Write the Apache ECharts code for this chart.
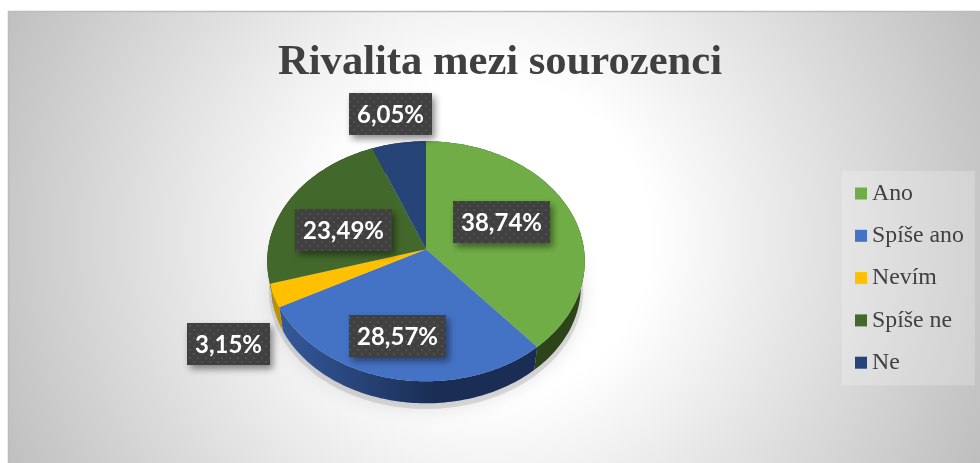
<!DOCTYPE html>
<html>
<head>
<meta charset="utf-8">
<title>Rivalita mezi sourozenci</title>
<style>
  html, body { margin: 0; padding: 0; background: #fff; }
  #chart { width: 980px; height: 463px; }
</style>
</head>
<body>
<div id="chart"></div>
<script src="https://cdn.jsdelivr.net/npm/echarts@6/dist/echarts.min.js"></script>
<script>
const titleText = 'Rivalita mezi sourozenci'
const categories = ['Ano', 'Spíše ano', 'Nevím', 'Spíše ne', 'Ne']
const shares = [38.74, 28.57, 3.15, 23.49, 6.05]

const colors = ['#70ad47', '#4472c4', '#ffc000', '#43682b', '#264478']
const wallColors = ['#2c4419', null, '#bf9000', '#2c4419', '#1a2e55']
// centres of the label boxes, placed by hand like in the original
const labelCenters = [[501.5, 222], [397.5, 336], [228.5, 344], [343.5, 230], [390.5, 114]]
const labelSizes = [[97, 42], [97, 42], [83, 42], [97, 42], [83, 42]]

// the pie lies tilted, so the circle goes through a small perspective mapping
const apex = [426, 249.3]
const radiusX = 158
const radiusY = 118.8
const tilt = 0.1
const rimScale = 0.975
const rimDrop = 25.3

function rimPoint(angle, scale, drop) {
  const u = Math.sin(angle)
  const v = -Math.cos(angle)
  const w = 1 - tilt * v
  return [apex[0] + radiusX * u / w * scale, apex[1] + radiusY * v / w * scale + drop]
}

function arcPoints(from, to, scale, drop) {
  const steps = Math.max(2, Math.ceil((to - from) / 0.02))
  const pts = []
  for (let i = 0; i <= steps; i++) {
    pts.push(rimPoint(from + (to - from) * i / steps, scale, drop))
  }
  return pts
}

function dotTile() {
  const tile = document.createElement('canvas')
  tile.width = 8
  tile.height = 8
  const ctx = tile.getContext('2d')
  ctx.fillStyle = '#404040'
  ctx.fillRect(0, 0, 8, 8)
  ctx.fillStyle = '#505050'
  ctx.fillRect(1, 1, 2, 2)
  ctx.fillRect(5, 5, 2, 2)
  return tile
}
const dots = dotTile()

function formatShare(v) {
  return v.toFixed(2).replace('.', ',') + '%'
}

function renderSlice(params, api) {
  const idx = params.seriesIndex
  const total = shares.reduce((a, b) => a + b, 0)
  const before = shares.slice(0, idx).reduce((a, b) => a + b, 0)
  const from = before / total * Math.PI * 2
  const to = (before + api.value(0)) / total * Math.PI * 2

  const topRim = arcPoints(from, to, 1, 0)
  const lowRim = arcPoints(from, to, rimScale, rimDrop)

  // blue wall fades from left to right
  const wallFill = wallColors[idx] || {
    type: 'linear', x: 1, y: 0, x2: 0, y2: 0,
    colorStops: [
      { offset: 0, color: '#1a2e55' },
      { offset: 0.4, color: '#1a2e55' },
      { offset: 1, color: '#35599c' }
    ]
  }
  const c = labelCenters[idx]
  const s = labelSizes[idx]

  return {
    type: 'group',
    children: [
      {
        type: 'polygon',
        z2: 1,
        shape: { points: topRim.concat(lowRim.reverse()) },
        style: { fill: wallFill }
      },
      {
        type: 'polygon',
        z2: 2,
        shape: { points: [apex].concat(topRim) },
        style: { fill: api.visual('color') }
      },
      {
        type: 'rect',
        z2: 5,
        shape: { x: c[0] - s[0] / 2, y: c[1] - s[1] / 2, width: s[0], height: s[1] },
        style: {
          fill: { image: dots, repeat: 'repeat' },
          shadowBlur: 7,
          shadowOffsetX: 3,
          shadowOffsetY: 4,
          shadowColor: 'rgba(0,0,0,0.45)'
        }
      },
      {
        type: 'text',
        z2: 6,
        style: {
          x: c[0],
          y: c[1] + 1,
          text: formatShare(api.value(0)),
          fill: '#fff',
          align: 'center',
          verticalAlign: 'middle',
          font: 'bold 24px Lato'
        }
      }
    ]
  }
}

const chart = echarts.init(document.getElementById('chart'))
chart.setOption({
  backgroundColor: '#fff',
  animation: false,
  title: {
    text: titleText,
    left: 495,
    top: 36,
    textAlign: 'center',
    textStyle: {
      fontFamily: 'Liberation Serif',
      fontWeight: 'bold',
      fontSize: 42.6,
      color: '#404040'
    }
  },
  legend: {
    orient: 'vertical',
    left: 842,
    top: 171,
    padding: [10, 11, 10, 13],
    backgroundColor: 'rgba(255,255,255,0.22)',
    icon: 'rect',
    itemWidth: 12,
    itemHeight: 12,
    itemGap: 17.3,
    selectedMode: false,
    textStyle: {
      fontFamily: 'Liberation Serif',
      fontSize: 23.8,
      color: '#404040',
      lineHeight: 25
    },
    data: categories
  },
  graphic: [
    {
      type: 'rect',
      z: -10,
      silent: true,
      shape: { x: 8.5, y: 11.5, width: 973, height: 453 },
      style: {
        stroke: '#bcbcbc',
        lineWidth: 1.5,
        fill: {
          type: 'radial', x: 490, y: 238, r: 535, global: true,
          colorStops: [
            { offset: 0, color: '#ffffff' },
            { offset: 0.3, color: '#ffffff' },
            { offset: 1, color: '#bfbfbf' }
          ]
        }
      }
    },
    {
      // soft shadow under the pie
      type: 'polygon',
      z: -5,
      silent: true,
      shape: { points: arcPoints(0, Math.PI * 2, 0.99, 29) },
      style: {
        fill: 'rgba(150,150,150,0.3)',
        shadowBlur: 18,
        shadowColor: 'rgba(110,110,110,0.6)'
      }
    }
  ],
  series: categories.map((name, i) => ({
    type: 'custom',
    name: name,
    coordinateSystem: 'none',
    silent: true,
    itemStyle: { color: colors[i] },
    data: [[shares[i]]],
    renderItem: renderSlice
  }))
})
</script>
</body>
</html>
